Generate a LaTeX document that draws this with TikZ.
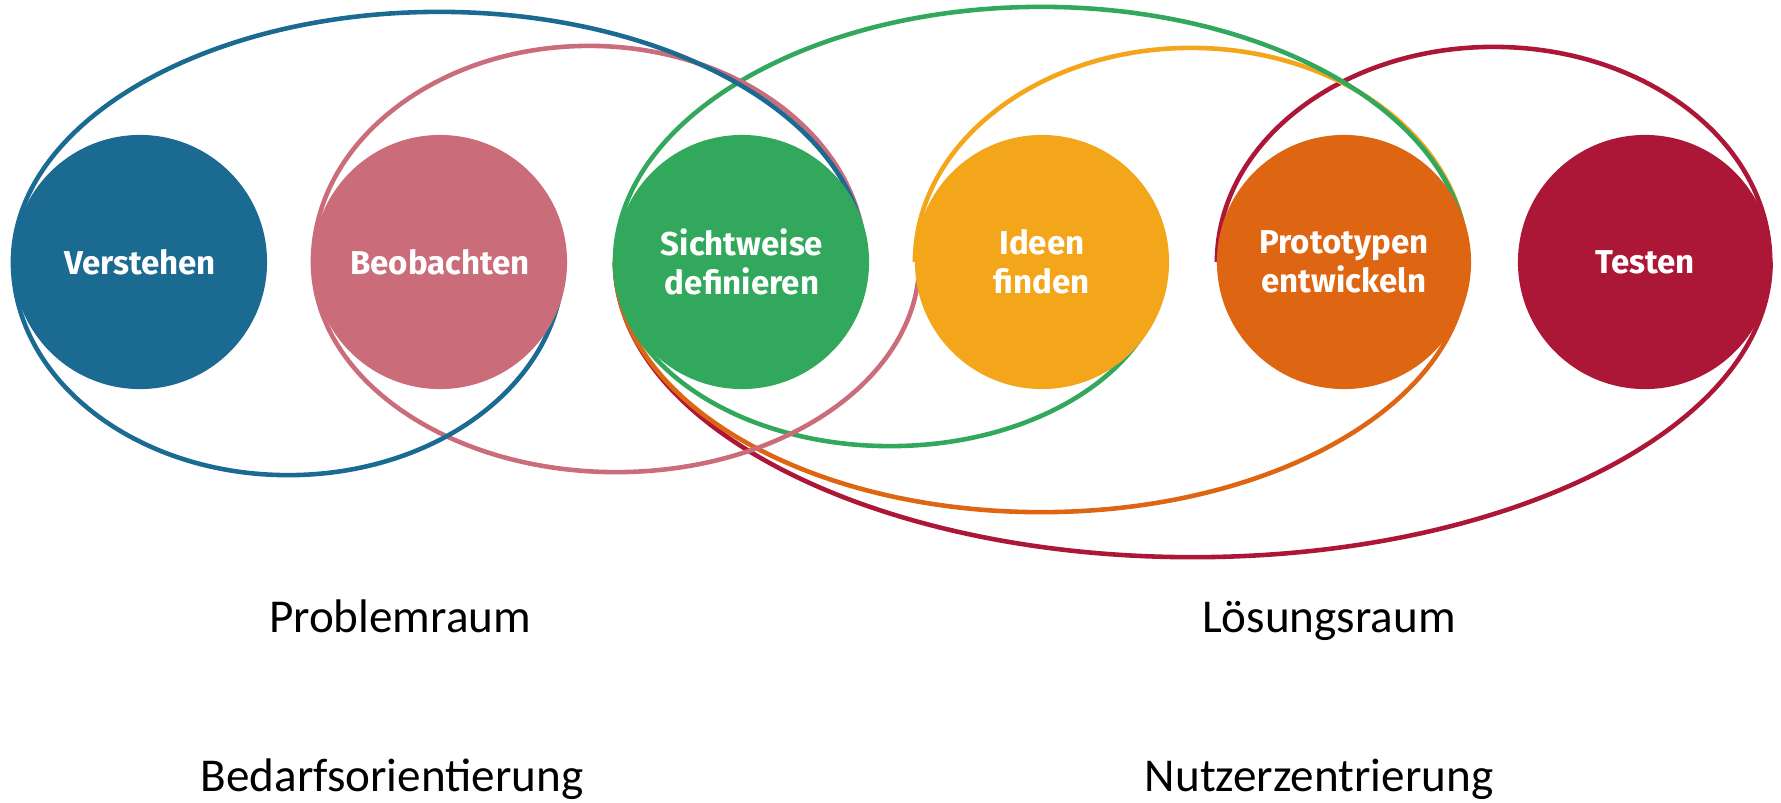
\documentclass[tikz,border=0pt]{standalone}
\usepackage{fontspec}
\setmainfont{Carlito}
\newfontfamily\circfont{Fira Sans}
\usetikzlibrary{backgrounds}
\definecolor{cblue}{RGB}{27,106,146}
\definecolor{cpink}{RGB}{202,108,121}
\definecolor{cgreen}{RGB}{50,168,92}
\definecolor{cyellow}{RGB}{244,166,27}
\definecolor{corange}{RGB}{222,101,18}
\definecolor{cred}{RGB}{173,23,55}
\begin{document}
\begin{tikzpicture}[x=0.01cm,y=0.01cm,
  ring/.style={line width=1.3pt},
  phase/.style={circle, minimum size=2.54cm, inner sep=0pt, outer sep=0pt,
    text=white, align=center,
    font=\circfont\bfseries\fontsize{9.4pt}{11.1pt}\selectfont},
  lbl/.style={anchor=base, text=black, inner sep=0pt,
    font=\fontsize{13.4pt}{16pt}\selectfont}]
\useasboundingbox (0,0) rectangle (1781,-802);

% phase circles
\node[phase, fill=cblue]   (v) at (140,-262)  {Verstehen};
\node[phase, fill=cpink]   (b) at (440,-262)  {Beobachten};
\node[phase, fill=cgreen]  (s) at (742,-262)  {Sichtweise\\definieren};
\node[phase, fill=cyellow] (i) at (1042,-262) {Ideen\\finden};
\node[phase, fill=corange] (p) at (1344,-262) {Prototypen\\entwickeln};
\node[phase, fill=cred]    (t) at (1645,-262) {Testen};

% loops behind the circles
\begin{scope}[on background layer]
  \draw[ring, cred]    (s.west) arc[start angle=180, end angle=360, x radius=5.775cm, y radius=2.95cm];
  \draw[ring, cred]    (p.west) arc[start angle=180, end angle=0,   x radius=2.765cm, y radius=2.15cm];
  \draw[ring, corange] (s.west) arc[start angle=180, end angle=360, x radius=4.26cm, y radius=2.50cm];
  \draw[ring, cyellow] (i.west) arc[start angle=180, end angle=0,   x radius=2.76cm, y radius=2.14cm];
  \draw[ring, cgreen]  (s.west) arc[start angle=180, end angle=0,   x radius=4.26cm, y radius=2.55cm];
  \draw[ring, cgreen]  (s.west) arc[start angle=180, end angle=360, x radius=2.75cm, y radius=1.84cm];
  \draw[ring, cpink]   (b.west) arc[start angle=180, end angle=0,   x radius=2.76cm, y radius=2.16cm];
  \draw[ring, cpink]   (b.west) arc[start angle=180, end angle=360, x radius=3.03cm, y radius=2.10cm];
  \draw[ring, cblue]   (v.west) arc[start angle=180, end angle=0,   x radius=4.26cm, y radius=2.50cm];
  \draw[ring, cblue]   (v.west) arc[start angle=180, end angle=360, x radius=2.75cm, y radius=2.13cm];
\end{scope}

% labels
\node[lbl] (pr) at (400,-632)  {Problemraum};
\node[lbl] (lr) at (1329,-632) {Lösungsraum};
\node[lbl] (bo) at (392,-791)  {Bedarfsorientierung};
\node[lbl] (nz) at (1319,-791) {Nutzerzentrierung};
\end{tikzpicture}
\end{document}
